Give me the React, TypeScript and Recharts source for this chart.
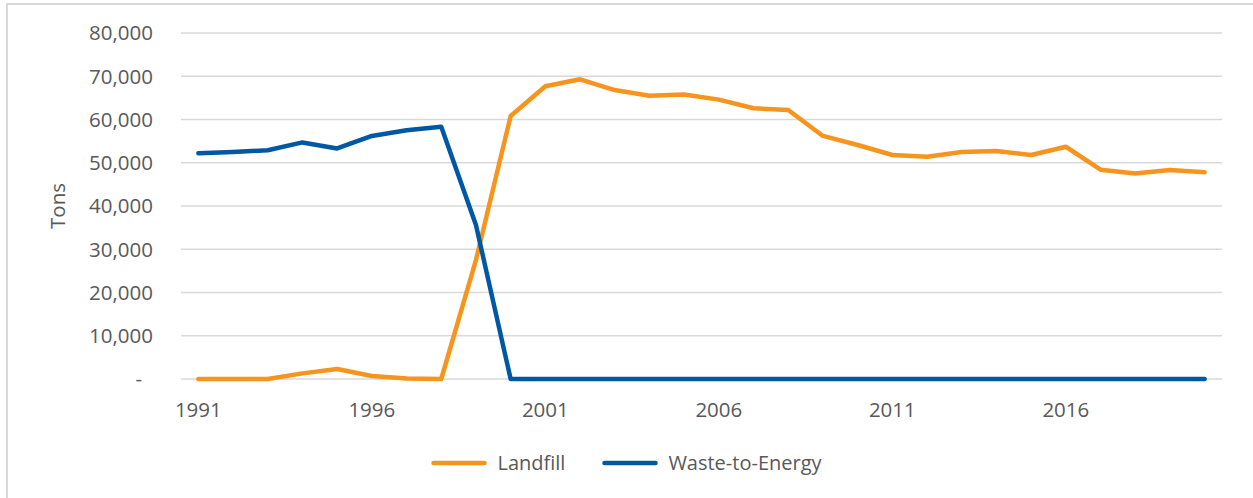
import React from 'react';
import { LineChart, Line, XAxis, YAxis, CartesianGrid, Legend } from 'recharts';

const years: number[] = [
  1991, 1992, 1993, 1994, 1995, 1996, 1997, 1998, 1999, 2000,
  2001, 2002, 2003, 2004, 2005, 2006, 2007, 2008, 2009, 2010,
  2011, 2012, 2013, 2014, 2015, 2016, 2017, 2018, 2019, 2020,
];

const landfill: number[] = [
  0, 0, 0, 1300, 2300, 700, 100, 0, 27500, 60800,
  67700, 69300, 66800, 65500, 65800, 64600, 62600, 62200, 56200, 54100,
  51800, 51400, 52500, 52700, 51800, 53700, 48400, 47500, 48300, 47800,
];

const wasteToEnergy: number[] = [
  52200, 52500, 52900, 54700, 53300, 56200, 57500, 58300, 35600, 0,
  0, 0, 0, 0, 0, 0, 0, 0, 0, 0,
  0, 0, 0, 0, 0, 0, 0, 0, 0, 0,
];

const yTicks: number[] = [0, 10000, 20000, 30000, 40000, 50000, 60000, 70000, 80000];

const seriesNames = { landfill: 'Landfill', wte: 'Waste-to-Energy' };
const yAxisTitle = 'Tons';

const data = years.map((y, i) => ({
  year: String(y),
  landfill: landfill[i],
  wte: wasteToEnergy[i],
}));

const FONT = '"Open Sans", "Noto Sans", sans-serif';
const TEXT = '#595959';
const ORANGE = '#F7941E';
const BLUE = '#0058A5';
const GRID = '#D9D9D9';

const YTick = (props: any) => {
  const { x, y, payload } = props;
  const v = payload.value as number;
  const label = v === 0 ? '-' : v.toLocaleString('en-US');
  return (
    <text
      x={v === 0 ? x - 11 : x}
      y={y}
      dy="0.355em"
      textAnchor="end"
      fill={TEXT}
      fontSize={20.5}
      fontFamily={FONT}
    >
      {label}
    </text>
  );
};

const YTitle = (props: any) => {
  const vb = props.viewBox || { x: 0, y: 33, width: 181, height: 346 };
  const cx = 57;
  const cy = vb.y + vb.height / 2;
  return (
    <text
      x={cx}
      y={cy}
      transform={`rotate(-90, ${cx}, ${cy})`}
      textAnchor="middle"
      dominantBaseline="central"
      fill={TEXT}
      fontSize={20.5}
      fontFamily={FONT}
    >
      {yAxisTitle}
    </text>
  );
};

const LegendContent = () => {
  const items = [
    { name: seriesNames.landfill, color: ORANGE },
    { name: seriesNames.wte, color: BLUE },
  ];
  return (
    <div
      style={{
        display: 'flex',
        justifyContent: 'center',
        alignItems: 'center',
        height: 30,
        paddingLeft: 0,
        fontFamily: FONT,
        fontSize: 20,
        color: TEXT,
      }}
    >
      {items.map((it, i) => (
        <div
          key={it.name}
          style={{ display: 'flex', alignItems: 'center', marginLeft: i === 0 ? 0 : 37 }}
        >
          <svg width={56} height={8} style={{ display: 'block' }}>
            <line x1={2.5} y1={4} x2={53.5} y2={4} stroke={it.color} strokeWidth={4.5} strokeLinecap="round" />
          </svg>
          <span style={{ marginLeft: 10, lineHeight: '30px', whiteSpace: 'nowrap' }}>{it.name}</span>
        </div>
      ))}
    </div>
  );
};

export default function App() {
  return (
    <div
      style={{
        position: 'absolute',
        left: 0,
        top: 0,
        width: 1253,
        height: 498,
        overflow: 'hidden',
        background: '#ffffff',
      }}
    >
      <div
        style={{
          position: 'absolute',
          left: 6,
          top: 3,
          width: 1400,
          height: 700,
          border: `2px solid ${GRID}`,
          boxSizing: 'border-box',
        }}
      />
      <div style={{ position: 'absolute', left: 0, top: 0 }}>
        <LineChart
          width={1253}
          height={498}
          data={data}
          margin={{ top: 33, right: 31, bottom: 0, left: 0 }}
        >
          <CartesianGrid vertical={false} stroke={GRID} strokeWidth={1.5} />
          <XAxis
            dataKey="year"
            type="category"
            interval={4}
            axisLine={false}
            tickLine={false}
            tickSize={0}
            tickMargin={23}
            height={119}
            padding={{ left: 17.35, right: 17.35 }}
            tick={{ fill: TEXT, fontSize: 20.5, fontFamily: FONT }}
          />
          <YAxis
            type="number"
            domain={[0, 80000]}
            ticks={yTicks}
            interval={0}
            width={181}
            axisLine={false}
            tickLine={false}
            tickSize={0}
            tickMargin={28}
            tick={<YTick />}
            label={<YTitle />}
          />
          <Legend
            layout="horizontal"
            verticalAlign="middle"
            align="center"
            content={<LegendContent />}
            wrapperStyle={{ position: 'absolute', top: 448, left: 0, width: 1253, height: 30 }}
          />
          <Line
            type="linear"
            dataKey="landfill"
            name={seriesNames.landfill}
            stroke={ORANGE}
            strokeWidth={4.5}
            dot={false}
            activeDot={false}
            strokeLinejoin="round"
            strokeLinecap="round"
            isAnimationActive={false}
          />
          <Line
            type="linear"
            dataKey="wte"
            name={seriesNames.wte}
            stroke={BLUE}
            strokeWidth={4.5}
            dot={false}
            activeDot={false}
            strokeLinejoin="round"
            strokeLinecap="round"
            isAnimationActive={false}
          />
        </LineChart>
      </div>
    </div>
  );
}
